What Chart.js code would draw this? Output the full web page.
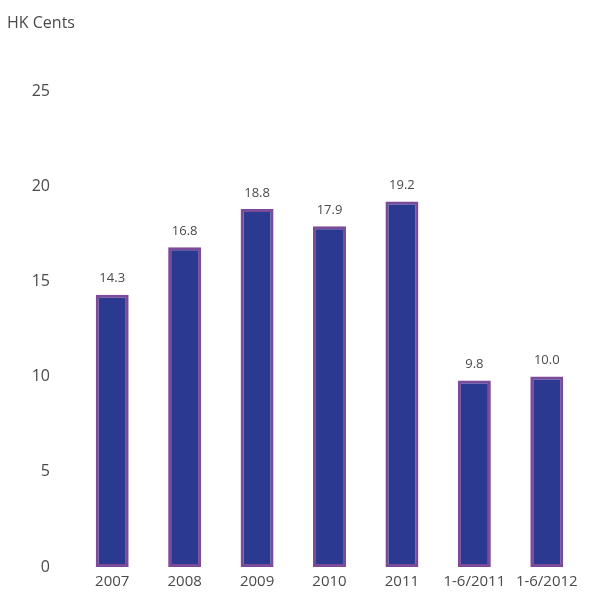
<!DOCTYPE html>
<html>
<head>
<meta charset="utf-8">
<script src="https://cdn.jsdelivr.net/npm/chart.js@4/dist/chart.umd.min.js"></script>
<style>
html,body{margin:0;padding:0;background:#fff;}
#wrap{width:604px;height:603px;position:relative;}
</style>
</head>
<body>
<div id="wrap"><canvas id="c" width="604" height="603"></canvas></div>
<script>
const categories = ["2007","2008","2009","2010","2011","1-6/2011","1-6/2012"];
const values = [14.3, 16.8, 18.8, 17.9, 19.2, 9.8, 10.0];
const valueLabels = ["14.3","16.8","18.8","17.9","19.2","9.8","10.0"];
const unitLabel = "HK Cents";

const FONT = "'Open Sans', 'Noto Sans', sans-serif";

const labelPlugin = {
  id: 'valueLabels',
  afterDatasetsDraw(chart) {
    const ctx = chart.ctx;
    const meta = chart.getDatasetMeta(0);
    ctx.save();
    ctx.font = "13px " + FONT;
    ctx.fillStyle = "#4a4a4a";
    ctx.textAlign = "center";
    ctx.textBaseline = "middle";
    meta.data.forEach((bar, i) => {
      ctx.fillText(valueLabels[i], bar.x, bar.y - 16);
    });
    ctx.restore();
  }
};

const unitPlugin = {
  id: 'unitTitle',
  afterDraw(chart) {
    const ctx = chart.ctx;
    ctx.save();
    ctx.font = "16px " + FONT;
    ctx.fillStyle = "#4a4a4a";
    ctx.textAlign = "left";
    ctx.textBaseline = "middle";
    ctx.fillText(unitLabel, 7, 23);
    ctx.restore();
  }
};

new Chart(document.getElementById('c'), {
  type: 'bar',
  data: {
    labels: categories,
    datasets: [{
      data: values,
      backgroundColor: '#2B3990',
      borderColor: '#7B4A9B',
      borderWidth: 3,
      borderSkipped: false,
      barPercentage: 0.455,
      categoryPercentage: 1.0
    }]
  },
  options: {
    responsive: false,
    animation: false,
    devicePixelRatio: 1,
    layout: { padding: { top: 91, right: 21, left: 0, bottom: 0 } },
    plugins: { legend: { display: false }, tooltip: { enabled: false } },
    scales: {
      x: {
        grid: { display: false, drawTicks: false },
        border: { display: false },
        ticks: { color: '#4a4a4a', font: { family: FONT, size: 15 }, padding: 6, maxRotation: 0, autoSkip: false },
        afterFit(scale) { scale.height = 36; }
      },
      y: {
        min: 0, max: 25,
        grid: { display: false, drawTicks: false },
        border: { display: false },
        ticks: { stepSize: 5, color: '#4a4a4a', font: { family: FONT, size: 16 }, padding: 26 },
        afterFit(scale) { scale.width = 76; }
      }
    }
  },
  plugins: [labelPlugin, unitPlugin]
});
</script>
</body>
</html>
